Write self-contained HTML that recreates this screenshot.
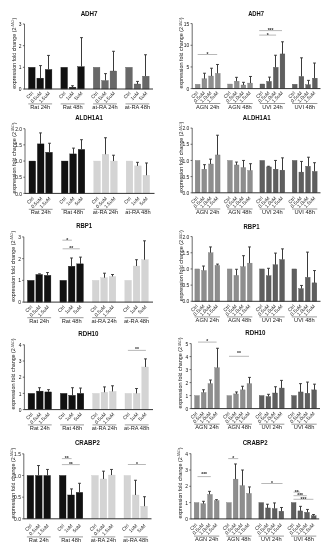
<!DOCTYPE html>
<html><head><meta charset="utf-8"><title>Figure</title>
<style>
html,body{margin:0;padding:0;background:#fff;}
body{width:331px;height:550px;overflow:hidden;}
svg{display:block;}
text{font-family:'Liberation Sans', Arial, sans-serif;fill:#222;}
.t{font-size:6.7px;font-weight:bold;fill:#111;}
.yl{font-size:5.6px;fill:#1a1a1a;}
.sup{font-size:3.1px;fill:#666;}
.tk{font-size:4.9px;fill:#111;}
.rl{font-size:4.9px;fill:#222;}
.gl{font-size:5.7px;fill:#222;}
.st{font-size:5px;fill:#2a2a2a;font-weight:bold;}
.ax{stroke:#444;stroke-width:0.8;}
.bl{stroke:#333;stroke-width:1.0;}
.eb{stroke:#3a3a3a;stroke-width:1;}
.ul{stroke:#555;stroke-width:0.6;}
.sg{stroke:#888;stroke-width:0.6;}
</style></head>
<body>
<svg width="331" height="550" viewBox="0 0 331 550">
<rect width="331" height="550" fill="#fff"/>
<text x="89.1" y="15.7" class="t" text-anchor="middle" textLength="16.9" lengthAdjust="spacingAndGlyphs">ADH7</text>
<text class="yl" transform="translate(15.5,53.3) rotate(-90)" text-anchor="middle" textLength="71" lengthAdjust="spacingAndGlyphs">expression fold change (2<tspan class="sup" dy="-1.6">-ΔΔCt</tspan><tspan dy="1.6">)</tspan></text>
<line x1="24.5" y1="24" x2="24.5" y2="89.4" class="ax"/>
<line x1="22.9" y1="89" x2="24.5" y2="89" class="ax"/>
<text x="21.6" y="91.1" class="tk" text-anchor="end">0</text>
<line x1="22.9" y1="67.33" x2="24.5" y2="67.33" class="ax"/>
<text x="21.6" y="69.43" class="tk" text-anchor="end">1</text>
<line x1="22.9" y1="45.66" x2="24.5" y2="45.66" class="ax"/>
<text x="21.6" y="47.76" class="tk" text-anchor="end">2</text>
<line x1="22.9" y1="23.99" x2="24.5" y2="23.99" class="ax"/>
<text x="21.6" y="26.09" class="tk" text-anchor="end">3</text>
<rect x="28.5" y="67.33" width="6.6" height="21.67" fill="#111111" stroke="#111111" stroke-width="0.35"/>
<rect x="36.9" y="78.16" width="6.6" height="10.84" fill="#111111" stroke="#111111" stroke-width="0.35"/>
<line x1="40.5" y1="78.16" x2="40.5" y2="65.6" class="eb"/>
<line x1="39.1" y1="65.6" x2="41.9" y2="65.6" class="eb"/>
<rect x="45.3" y="69.5" width="6.6" height="19.5" fill="#111111" stroke="#111111" stroke-width="0.35"/>
<line x1="48.5" y1="69.5" x2="48.5" y2="55.41" class="eb"/>
<line x1="47.1" y1="55.41" x2="49.9" y2="55.41" class="eb"/>
<text class="rl" text-anchor="end" transform="translate(33.7,93.7) rotate(-45)">Ctrl</text>
<text class="rl" text-anchor="end" transform="translate(42.1,93.7) rotate(-45)">0.5uM</text>
<text class="rl" text-anchor="end" transform="translate(50.5,93.7) rotate(-45)">1.5uM</text>
<line x1="28.3" y1="103.9" x2="52.1" y2="103.9" class="ul"/>
<text x="40.2" y="109" class="gl" text-anchor="middle">Rat 24h</text>
<rect x="60.9" y="67.33" width="6.6" height="21.67" fill="#111111" stroke="#111111" stroke-width="0.35"/>
<rect x="69.3" y="87.27" width="6.6" height="1.73" fill="#111111" stroke="#111111" stroke-width="0.35"/>
<line x1="72.5" y1="87.27" x2="72.5" y2="85.75" class="eb"/>
<line x1="71.1" y1="85.75" x2="73.9" y2="85.75" class="eb"/>
<rect x="77.7" y="66.68" width="6.6" height="22.32" fill="#111111" stroke="#111111" stroke-width="0.35"/>
<line x1="81.5" y1="66.68" x2="81.5" y2="37.64" class="eb"/>
<line x1="80.1" y1="37.64" x2="82.9" y2="37.64" class="eb"/>
<text class="rl" text-anchor="end" transform="translate(66.1,93.7) rotate(-45)">Ctrl</text>
<text class="rl" text-anchor="end" transform="translate(74.5,93.7) rotate(-45)">1uM</text>
<text class="rl" text-anchor="end" transform="translate(82.9,93.7) rotate(-45)">5uM</text>
<line x1="60.7" y1="103.9" x2="84.5" y2="103.9" class="ul"/>
<text x="72.6" y="109" class="gl" text-anchor="middle">Rat 48h</text>
<rect x="93.3" y="67.33" width="6.6" height="21.67" fill="#686868" stroke="#505050" stroke-width="0.35"/>
<rect x="101.7" y="80.55" width="6.6" height="8.45" fill="#686868" stroke="#505050" stroke-width="0.35"/>
<line x1="105.5" y1="80.55" x2="105.5" y2="73.61" class="eb"/>
<line x1="104.1" y1="73.61" x2="106.9" y2="73.61" class="eb"/>
<rect x="110.1" y="71.01" width="6.6" height="17.99" fill="#686868" stroke="#505050" stroke-width="0.35"/>
<line x1="113.5" y1="71.01" x2="113.5" y2="51.29" class="eb"/>
<line x1="112.1" y1="51.29" x2="114.9" y2="51.29" class="eb"/>
<text class="rl" text-anchor="end" transform="translate(98.5,93.7) rotate(-45)">Ctrl</text>
<text class="rl" text-anchor="end" transform="translate(106.9,93.7) rotate(-45)">0.5uM</text>
<text class="rl" text-anchor="end" transform="translate(115.3,93.7) rotate(-45)">1.5uM</text>
<line x1="93.1" y1="103.9" x2="116.9" y2="103.9" class="ul"/>
<text x="105" y="109" class="gl" text-anchor="middle">at-RA 24h</text>
<rect x="125.7" y="67.33" width="6.6" height="21.67" fill="#686868" stroke="#505050" stroke-width="0.35"/>
<rect x="134.1" y="84.02" width="6.6" height="4.98" fill="#686868" stroke="#505050" stroke-width="0.35"/>
<line x1="137.5" y1="84.02" x2="137.5" y2="81.42" class="eb"/>
<line x1="136.1" y1="81.42" x2="138.9" y2="81.42" class="eb"/>
<rect x="142.5" y="76.21" width="6.6" height="12.79" fill="#686868" stroke="#505050" stroke-width="0.35"/>
<line x1="145.5" y1="76.21" x2="145.5" y2="54.76" class="eb"/>
<line x1="144.1" y1="54.76" x2="146.9" y2="54.76" class="eb"/>
<text class="rl" text-anchor="end" transform="translate(130.9,93.7) rotate(-45)">Ctrl</text>
<text class="rl" text-anchor="end" transform="translate(139.3,93.7) rotate(-45)">1uM</text>
<text class="rl" text-anchor="end" transform="translate(147.7,93.7) rotate(-45)">5uM</text>
<line x1="125.5" y1="103.9" x2="149.3" y2="103.9" class="ul"/>
<text x="137.4" y="109" class="gl" text-anchor="middle">at-RA 48h</text>
<line x1="24.5" y1="89" x2="153" y2="89" class="bl"/>
<text x="256.1" y="15.7" class="t" text-anchor="middle" textLength="15.9" lengthAdjust="spacingAndGlyphs">ADH7</text>
<text class="yl" transform="translate(183.2,52.9) rotate(-90)" text-anchor="middle" textLength="71" lengthAdjust="spacingAndGlyphs">expression fold change (2<tspan class="sup" dy="-1.6">-ΔΔCt</tspan><tspan dy="1.6">)</tspan></text>
<line x1="192.2" y1="23.6" x2="192.2" y2="89" class="ax"/>
<line x1="190.6" y1="88.6" x2="192.2" y2="88.6" class="ax"/>
<text x="189.3" y="90.7" class="tk" text-anchor="end">0</text>
<line x1="190.6" y1="66.94" x2="192.2" y2="66.94" class="ax"/>
<text x="189.3" y="69.03" class="tk" text-anchor="end">5</text>
<line x1="190.6" y1="45.27" x2="192.2" y2="45.27" class="ax"/>
<text x="189.3" y="47.37" class="tk" text-anchor="end">10</text>
<line x1="190.6" y1="23.6" x2="192.2" y2="23.6" class="ax"/>
<text x="189.3" y="25.7" class="tk" text-anchor="end">15</text>
<rect x="195.3" y="84.27" width="4.75" height="4.33" fill="#8e8e8e" stroke="#777777" stroke-width="0.35"/>
<rect x="202" y="78.81" width="4.75" height="9.79" fill="#8e8e8e" stroke="#777777" stroke-width="0.35"/>
<line x1="204.5" y1="78.81" x2="204.5" y2="73.22" class="eb"/>
<line x1="203.1" y1="73.22" x2="205.9" y2="73.22" class="eb"/>
<rect x="208.7" y="76.03" width="4.75" height="12.57" fill="#8e8e8e" stroke="#777777" stroke-width="0.35"/>
<line x1="211.5" y1="76.03" x2="211.5" y2="68.23" class="eb"/>
<line x1="210.1" y1="68.23" x2="212.9" y2="68.23" class="eb"/>
<rect x="215.4" y="73.43" width="4.75" height="15.17" fill="#8e8e8e" stroke="#777777" stroke-width="0.35"/>
<line x1="217.5" y1="73.43" x2="217.5" y2="64.47" class="eb"/>
<line x1="216.1" y1="64.47" x2="218.9" y2="64.47" class="eb"/>
<text class="rl" text-anchor="end" transform="translate(198.58,93.3) rotate(-45)">Ctrl</text>
<text class="rl" text-anchor="end" transform="translate(205.28,93.3) rotate(-45)">0.5uM</text>
<text class="rl" text-anchor="end" transform="translate(211.98,93.3) rotate(-45)">1.0uM</text>
<text class="rl" text-anchor="end" transform="translate(218.68,93.3) rotate(-45)">1.5uM</text>
<line x1="195.1" y1="103.5" x2="220.35" y2="103.5" class="ul"/>
<text x="207.73" y="108.6" class="gl" text-anchor="middle">AGN 24h</text>
<rect x="227.65" y="84.05" width="4.75" height="4.55" fill="#8e8e8e" stroke="#777777" stroke-width="0.35"/>
<rect x="234.35" y="81.23" width="4.75" height="7.37" fill="#8e8e8e" stroke="#777777" stroke-width="0.35"/>
<line x1="236.5" y1="81.23" x2="236.5" y2="77.33" class="eb"/>
<line x1="235.1" y1="77.33" x2="237.9" y2="77.33" class="eb"/>
<rect x="241.05" y="85" width="4.75" height="3.6" fill="#8e8e8e" stroke="#777777" stroke-width="0.35"/>
<line x1="243.5" y1="85" x2="243.5" y2="82.32" class="eb"/>
<line x1="242.1" y1="82.32" x2="244.9" y2="82.32" class="eb"/>
<rect x="247.75" y="83.1" width="4.75" height="5.5" fill="#8e8e8e" stroke="#777777" stroke-width="0.35"/>
<line x1="250.5" y1="83.1" x2="250.5" y2="76.47" class="eb"/>
<line x1="249.1" y1="76.47" x2="251.9" y2="76.47" class="eb"/>
<text class="rl" text-anchor="end" transform="translate(230.93,93.3) rotate(-45)">Ctrl</text>
<text class="rl" text-anchor="end" transform="translate(237.62,93.3) rotate(-45)">0.5uM</text>
<text class="rl" text-anchor="end" transform="translate(244.33,93.3) rotate(-45)">1.0uM</text>
<text class="rl" text-anchor="end" transform="translate(251.03,93.3) rotate(-45)">1.5uM</text>
<line x1="227.45" y1="103.5" x2="252.7" y2="103.5" class="ul"/>
<text x="240.07" y="108.6" class="gl" text-anchor="middle">AGN 48h</text>
<rect x="260" y="84.01" width="4.75" height="4.59" fill="#5f5f5f" stroke="#484848" stroke-width="0.35"/>
<rect x="266.7" y="81.41" width="4.75" height="7.19" fill="#5f5f5f" stroke="#484848" stroke-width="0.35"/>
<line x1="269.5" y1="81.41" x2="269.5" y2="77.12" class="eb"/>
<line x1="268.1" y1="77.12" x2="270.9" y2="77.12" class="eb"/>
<rect x="273.4" y="67.37" width="4.75" height="21.23" fill="#5f5f5f" stroke="#484848" stroke-width="0.35"/>
<line x1="275.5" y1="67.37" x2="275.5" y2="55.24" class="eb"/>
<line x1="274.1" y1="55.24" x2="276.9" y2="55.24" class="eb"/>
<rect x="280.1" y="53.94" width="4.75" height="34.66" fill="#5f5f5f" stroke="#484848" stroke-width="0.35"/>
<line x1="282.5" y1="53.94" x2="282.5" y2="41.8" class="eb"/>
<line x1="281.1" y1="41.8" x2="283.9" y2="41.8" class="eb"/>
<text class="rl" text-anchor="end" transform="translate(263.27,93.3) rotate(-45)">Ctrl</text>
<text class="rl" text-anchor="end" transform="translate(269.97,93.3) rotate(-45)">0.5uM</text>
<text class="rl" text-anchor="end" transform="translate(276.67,93.3) rotate(-45)">1.0uM</text>
<text class="rl" text-anchor="end" transform="translate(283.38,93.3) rotate(-45)">1.5uM</text>
<line x1="259.8" y1="103.5" x2="285.05" y2="103.5" class="ul"/>
<text x="272.43" y="108.6" class="gl" text-anchor="middle">UVI 24h</text>
<rect x="292.35" y="84.27" width="4.75" height="4.33" fill="#5f5f5f" stroke="#484848" stroke-width="0.35"/>
<rect x="299.05" y="76.47" width="4.75" height="12.13" fill="#5f5f5f" stroke="#484848" stroke-width="0.35"/>
<line x1="301.5" y1="76.47" x2="301.5" y2="57.84" class="eb"/>
<line x1="300.1" y1="57.84" x2="302.9" y2="57.84" class="eb"/>
<rect x="305.75" y="84.7" width="4.75" height="3.9" fill="#5f5f5f" stroke="#484848" stroke-width="0.35"/>
<line x1="308.5" y1="84.7" x2="308.5" y2="80.37" class="eb"/>
<line x1="307.1" y1="80.37" x2="309.9" y2="80.37" class="eb"/>
<rect x="312.45" y="78.2" width="4.75" height="10.4" fill="#5f5f5f" stroke="#484848" stroke-width="0.35"/>
<line x1="314.5" y1="78.2" x2="314.5" y2="63.04" class="eb"/>
<line x1="313.1" y1="63.04" x2="315.9" y2="63.04" class="eb"/>
<text class="rl" text-anchor="end" transform="translate(295.62,93.3) rotate(-45)">Ctrl</text>
<text class="rl" text-anchor="end" transform="translate(302.32,93.3) rotate(-45)">0.5uM</text>
<text class="rl" text-anchor="end" transform="translate(309.02,93.3) rotate(-45)">1.0uM</text>
<text class="rl" text-anchor="end" transform="translate(315.73,93.3) rotate(-45)">1.5uM</text>
<line x1="292.15" y1="103.5" x2="317.4" y2="103.5" class="ul"/>
<text x="304.78" y="108.6" class="gl" text-anchor="middle">UVI 48h</text>
<line x1="192.2" y1="88.6" x2="320.5" y2="88.6" class="bl"/>
<line x1="197.7" y1="54.5" x2="217.2" y2="54.5" class="sg"/>
<text x="207.45" y="55.9" class="st" text-anchor="middle">*</text>
<line x1="259.2" y1="30.6" x2="282" y2="30.6" class="sg"/>
<text x="270.6" y="32" class="st" text-anchor="middle">***</text>
<line x1="259.2" y1="35.1" x2="276.1" y2="35.1" class="sg"/>
<text x="267.65" y="36.5" class="st" text-anchor="middle">*</text>
<text x="89" y="120" class="t" text-anchor="middle" textLength="27.7" lengthAdjust="spacingAndGlyphs">ALDH1A1</text>
<text class="yl" transform="translate(16,157.9) rotate(-90)" text-anchor="middle" textLength="71" lengthAdjust="spacingAndGlyphs">expression fold change (2<tspan class="sup" dy="-1.6">-ΔΔCt</tspan><tspan dy="1.6">)</tspan></text>
<line x1="25" y1="128.8" x2="25" y2="193.8" class="ax"/>
<line x1="23.4" y1="193.4" x2="25" y2="193.4" class="ax"/>
<text x="22.1" y="195.5" class="tk" text-anchor="end">0.0</text>
<line x1="23.4" y1="177.22" x2="25" y2="177.22" class="ax"/>
<text x="22.1" y="179.32" class="tk" text-anchor="end">0.5</text>
<line x1="23.4" y1="161.05" x2="25" y2="161.05" class="ax"/>
<text x="22.1" y="163.15" class="tk" text-anchor="end">1.0</text>
<line x1="23.4" y1="144.87" x2="25" y2="144.87" class="ax"/>
<text x="22.1" y="146.97" class="tk" text-anchor="end">1.5</text>
<line x1="23.4" y1="128.7" x2="25" y2="128.7" class="ax"/>
<text x="22.1" y="130.8" class="tk" text-anchor="end">2.0</text>
<rect x="29" y="161.05" width="6.6" height="32.35" fill="#111111" stroke="#111111" stroke-width="0.35"/>
<rect x="37.4" y="143.9" width="6.6" height="49.5" fill="#111111" stroke="#111111" stroke-width="0.35"/>
<line x1="40.5" y1="143.9" x2="40.5" y2="132.91" class="eb"/>
<line x1="39.1" y1="132.91" x2="41.9" y2="132.91" class="eb"/>
<rect x="45.8" y="152.32" width="6.6" height="41.08" fill="#111111" stroke="#111111" stroke-width="0.35"/>
<line x1="49.5" y1="152.32" x2="49.5" y2="143.26" class="eb"/>
<line x1="48.1" y1="143.26" x2="50.9" y2="143.26" class="eb"/>
<text class="rl" text-anchor="end" transform="translate(34.2,198.9) rotate(-45)">Ctrl</text>
<text class="rl" text-anchor="end" transform="translate(42.6,198.9) rotate(-45)">0.5uM</text>
<text class="rl" text-anchor="end" transform="translate(51,198.9) rotate(-45)">1.5uM</text>
<line x1="28.8" y1="209.3" x2="52.6" y2="209.3" class="ul"/>
<text x="40.7" y="214.4" class="gl" text-anchor="middle">Rat 24h</text>
<rect x="61.4" y="161.05" width="6.6" height="32.35" fill="#111111" stroke="#111111" stroke-width="0.35"/>
<rect x="69.8" y="153.93" width="6.6" height="39.47" fill="#111111" stroke="#111111" stroke-width="0.35"/>
<line x1="73.5" y1="153.93" x2="73.5" y2="148.11" class="eb"/>
<line x1="72.1" y1="148.11" x2="74.9" y2="148.11" class="eb"/>
<rect x="78.2" y="149.4" width="6.6" height="44" fill="#111111" stroke="#111111" stroke-width="0.35"/>
<line x1="81.5" y1="149.4" x2="81.5" y2="139.7" class="eb"/>
<line x1="80.1" y1="139.7" x2="82.9" y2="139.7" class="eb"/>
<text class="rl" text-anchor="end" transform="translate(66.6,198.9) rotate(-45)">Ctrl</text>
<text class="rl" text-anchor="end" transform="translate(75,198.9) rotate(-45)">1uM</text>
<text class="rl" text-anchor="end" transform="translate(83.4,198.9) rotate(-45)">5uM</text>
<line x1="61.2" y1="209.3" x2="85" y2="209.3" class="ul"/>
<text x="73.1" y="214.4" class="gl" text-anchor="middle">Rat 48h</text>
<rect x="93.8" y="161.05" width="6.6" height="32.35" fill="#d4d4d4" stroke="#cccccc" stroke-width="0.35"/>
<rect x="102.2" y="154.26" width="6.6" height="39.14" fill="#d4d4d4" stroke="#cccccc" stroke-width="0.35"/>
<line x1="105.5" y1="154.26" x2="105.5" y2="137.76" class="eb"/>
<line x1="104.1" y1="137.76" x2="106.9" y2="137.76" class="eb"/>
<rect x="110.6" y="161.05" width="6.6" height="32.35" fill="#d4d4d4" stroke="#cccccc" stroke-width="0.35"/>
<line x1="113.5" y1="161.05" x2="113.5" y2="155.23" class="eb"/>
<line x1="112.1" y1="155.23" x2="114.9" y2="155.23" class="eb"/>
<text class="rl" text-anchor="end" transform="translate(99,198.9) rotate(-45)">Ctrl</text>
<text class="rl" text-anchor="end" transform="translate(107.4,198.9) rotate(-45)">0.5uM</text>
<text class="rl" text-anchor="end" transform="translate(115.8,198.9) rotate(-45)">1.5uM</text>
<line x1="93.6" y1="209.3" x2="117.4" y2="209.3" class="ul"/>
<text x="105.5" y="214.4" class="gl" text-anchor="middle">at-RA 24h</text>
<rect x="126.2" y="161.05" width="6.6" height="32.35" fill="#d4d4d4" stroke="#cccccc" stroke-width="0.35"/>
<rect x="134.6" y="165.9" width="6.6" height="27.5" fill="#d4d4d4" stroke="#cccccc" stroke-width="0.35"/>
<line x1="137.5" y1="165.9" x2="137.5" y2="162.34" class="eb"/>
<line x1="136.1" y1="162.34" x2="138.9" y2="162.34" class="eb"/>
<rect x="143" y="175.28" width="6.6" height="18.12" fill="#d4d4d4" stroke="#cccccc" stroke-width="0.35"/>
<line x1="146.5" y1="175.28" x2="146.5" y2="162.99" class="eb"/>
<line x1="145.1" y1="162.99" x2="147.9" y2="162.99" class="eb"/>
<text class="rl" text-anchor="end" transform="translate(131.4,198.9) rotate(-45)">Ctrl</text>
<text class="rl" text-anchor="end" transform="translate(139.8,198.9) rotate(-45)">1uM</text>
<text class="rl" text-anchor="end" transform="translate(148.2,198.9) rotate(-45)">5uM</text>
<line x1="126" y1="209.3" x2="149.8" y2="209.3" class="ul"/>
<text x="137.9" y="214.4" class="gl" text-anchor="middle">at-RA 48h</text>
<line x1="25" y1="193.4" x2="154.5" y2="193.4" class="bl"/>
<text x="256.75" y="120" class="t" text-anchor="middle" textLength="27.8" lengthAdjust="spacingAndGlyphs">ALDH1A1</text>
<text class="yl" transform="translate(183.2,157.2) rotate(-90)" text-anchor="middle" textLength="71" lengthAdjust="spacingAndGlyphs">expression fold change (2<tspan class="sup" dy="-1.6">-ΔΔCt</tspan><tspan dy="1.6">)</tspan></text>
<line x1="192.2" y1="128" x2="192.2" y2="193.2" class="ax"/>
<line x1="190.6" y1="192.8" x2="192.2" y2="192.8" class="ax"/>
<text x="189.3" y="194.9" class="tk" text-anchor="end">0.0</text>
<line x1="190.6" y1="176.62" x2="192.2" y2="176.62" class="ax"/>
<text x="189.3" y="178.72" class="tk" text-anchor="end">0.5</text>
<line x1="190.6" y1="160.45" x2="192.2" y2="160.45" class="ax"/>
<text x="189.3" y="162.55" class="tk" text-anchor="end">1.0</text>
<line x1="190.6" y1="144.28" x2="192.2" y2="144.28" class="ax"/>
<text x="189.3" y="146.38" class="tk" text-anchor="end">1.5</text>
<line x1="190.6" y1="128.1" x2="192.2" y2="128.1" class="ax"/>
<text x="189.3" y="130.2" class="tk" text-anchor="end">2.0</text>
<rect x="195.2" y="160.45" width="4.75" height="32.35" fill="#8e8e8e" stroke="#777777" stroke-width="0.35"/>
<rect x="201.9" y="169.18" width="4.75" height="23.62" fill="#8e8e8e" stroke="#777777" stroke-width="0.35"/>
<line x1="204.5" y1="169.18" x2="204.5" y2="164.66" class="eb"/>
<line x1="203.1" y1="164.66" x2="205.9" y2="164.66" class="eb"/>
<rect x="208.6" y="164.01" width="4.75" height="28.79" fill="#8e8e8e" stroke="#777777" stroke-width="0.35"/>
<line x1="210.5" y1="164.01" x2="210.5" y2="159.16" class="eb"/>
<line x1="209.1" y1="159.16" x2="211.9" y2="159.16" class="eb"/>
<rect x="215.3" y="154.95" width="4.75" height="37.85" fill="#8e8e8e" stroke="#777777" stroke-width="0.35"/>
<line x1="217.5" y1="154.95" x2="217.5" y2="135.22" class="eb"/>
<line x1="216.1" y1="135.22" x2="218.9" y2="135.22" class="eb"/>
<text class="rl" text-anchor="end" transform="translate(198.47,198.54) rotate(-45)">Ctrl</text>
<text class="rl" text-anchor="end" transform="translate(205.17,198.54) rotate(-45)">0.5uM</text>
<text class="rl" text-anchor="end" transform="translate(211.88,198.54) rotate(-45)">1.0uM</text>
<text class="rl" text-anchor="end" transform="translate(218.57,198.54) rotate(-45)">1.5uM</text>
<line x1="195" y1="209" x2="220.25" y2="209" class="ul"/>
<text x="207.62" y="214.1" class="gl" text-anchor="middle">AGN 24h</text>
<rect x="227.55" y="160.45" width="4.75" height="32.35" fill="#8e8e8e" stroke="#777777" stroke-width="0.35"/>
<rect x="234.25" y="164.98" width="4.75" height="27.82" fill="#8e8e8e" stroke="#777777" stroke-width="0.35"/>
<line x1="236.5" y1="164.98" x2="236.5" y2="162.07" class="eb"/>
<line x1="235.1" y1="162.07" x2="237.9" y2="162.07" class="eb"/>
<rect x="240.95" y="167.57" width="4.75" height="25.23" fill="#8e8e8e" stroke="#777777" stroke-width="0.35"/>
<line x1="243.5" y1="167.57" x2="243.5" y2="160.45" class="eb"/>
<line x1="242.1" y1="160.45" x2="244.9" y2="160.45" class="eb"/>
<rect x="247.65" y="170.48" width="4.75" height="22.32" fill="#8e8e8e" stroke="#777777" stroke-width="0.35"/>
<line x1="250.5" y1="170.48" x2="250.5" y2="163.69" class="eb"/>
<line x1="249.1" y1="163.69" x2="251.9" y2="163.69" class="eb"/>
<text class="rl" text-anchor="end" transform="translate(230.82,198.54) rotate(-45)">Ctrl</text>
<text class="rl" text-anchor="end" transform="translate(237.52,198.54) rotate(-45)">0.5uM</text>
<text class="rl" text-anchor="end" transform="translate(244.22,198.54) rotate(-45)">1.0uM</text>
<text class="rl" text-anchor="end" transform="translate(250.92,198.54) rotate(-45)">1.5uM</text>
<line x1="227.35" y1="209" x2="252.6" y2="209" class="ul"/>
<text x="239.97" y="214.1" class="gl" text-anchor="middle">AGN 48h</text>
<rect x="259.9" y="160.45" width="4.75" height="32.35" fill="#5f5f5f" stroke="#484848" stroke-width="0.35"/>
<rect x="266.6" y="166.92" width="4.75" height="25.88" fill="#5f5f5f" stroke="#484848" stroke-width="0.35"/>
<line x1="268.5" y1="166.92" x2="268.5" y2="166.27" class="eb"/>
<line x1="267.1" y1="166.27" x2="269.9" y2="166.27" class="eb"/>
<rect x="273.3" y="169.18" width="4.75" height="23.62" fill="#5f5f5f" stroke="#484848" stroke-width="0.35"/>
<line x1="275.5" y1="169.18" x2="275.5" y2="160.45" class="eb"/>
<line x1="274.1" y1="160.45" x2="276.9" y2="160.45" class="eb"/>
<rect x="280" y="170.16" width="4.75" height="22.65" fill="#5f5f5f" stroke="#484848" stroke-width="0.35"/>
<line x1="282.5" y1="170.16" x2="282.5" y2="157.86" class="eb"/>
<line x1="281.1" y1="157.86" x2="283.9" y2="157.86" class="eb"/>
<text class="rl" text-anchor="end" transform="translate(263.17,198.54) rotate(-45)">Ctrl</text>
<text class="rl" text-anchor="end" transform="translate(269.87,198.54) rotate(-45)">0.5uM</text>
<text class="rl" text-anchor="end" transform="translate(276.57,198.54) rotate(-45)">1.0uM</text>
<text class="rl" text-anchor="end" transform="translate(283.27,198.54) rotate(-45)">1.5uM</text>
<line x1="259.7" y1="209" x2="284.95" y2="209" class="ul"/>
<text x="272.32" y="214.1" class="gl" text-anchor="middle">UVI 24h</text>
<rect x="292.25" y="160.45" width="4.75" height="32.35" fill="#5f5f5f" stroke="#484848" stroke-width="0.35"/>
<rect x="298.95" y="172.1" width="4.75" height="20.7" fill="#5f5f5f" stroke="#484848" stroke-width="0.35"/>
<line x1="301.5" y1="172.1" x2="301.5" y2="161.42" class="eb"/>
<line x1="300.1" y1="161.42" x2="302.9" y2="161.42" class="eb"/>
<rect x="305.65" y="166.27" width="4.75" height="26.53" fill="#5f5f5f" stroke="#484848" stroke-width="0.35"/>
<line x1="308.5" y1="166.27" x2="308.5" y2="157.22" class="eb"/>
<line x1="307.1" y1="157.22" x2="309.9" y2="157.22" class="eb"/>
<rect x="312.35" y="171.45" width="4.75" height="21.35" fill="#5f5f5f" stroke="#484848" stroke-width="0.35"/>
<line x1="314.5" y1="171.45" x2="314.5" y2="162.71" class="eb"/>
<line x1="313.1" y1="162.71" x2="315.9" y2="162.71" class="eb"/>
<text class="rl" text-anchor="end" transform="translate(295.52,198.54) rotate(-45)">Ctrl</text>
<text class="rl" text-anchor="end" transform="translate(302.22,198.54) rotate(-45)">0.5uM</text>
<text class="rl" text-anchor="end" transform="translate(308.92,198.54) rotate(-45)">1.0uM</text>
<text class="rl" text-anchor="end" transform="translate(315.62,198.54) rotate(-45)">1.5uM</text>
<line x1="292.05" y1="209" x2="317.3" y2="209" class="ul"/>
<text x="304.68" y="214.1" class="gl" text-anchor="middle">UVI 48h</text>
<line x1="192.2" y1="192.8" x2="320.5" y2="192.8" class="bl"/>
<text x="84.1" y="228.3" class="t" text-anchor="middle" textLength="15.9" lengthAdjust="spacingAndGlyphs">RBP1</text>
<text class="yl" transform="translate(14.8,266.3) rotate(-90)" text-anchor="middle" textLength="71" lengthAdjust="spacingAndGlyphs">expression fold change (2<tspan class="sup" dy="-1.6">-ΔΔCt</tspan><tspan dy="1.6">)</tspan></text>
<line x1="23.8" y1="236.9" x2="23.8" y2="302.5" class="ax"/>
<line x1="22.2" y1="302.1" x2="23.8" y2="302.1" class="ax"/>
<text x="20.9" y="304.2" class="tk" text-anchor="end">0</text>
<line x1="22.2" y1="280.37" x2="23.8" y2="280.37" class="ax"/>
<text x="20.9" y="282.47" class="tk" text-anchor="end">1</text>
<line x1="22.2" y1="258.64" x2="23.8" y2="258.64" class="ax"/>
<text x="20.9" y="260.74" class="tk" text-anchor="end">2</text>
<line x1="22.2" y1="236.91" x2="23.8" y2="236.91" class="ax"/>
<text x="20.9" y="239.01" class="tk" text-anchor="end">3</text>
<rect x="27.5" y="280.37" width="6.6" height="21.73" fill="#111111" stroke="#111111" stroke-width="0.35"/>
<rect x="35.9" y="274.5" width="6.6" height="27.6" fill="#111111" stroke="#111111" stroke-width="0.35"/>
<line x1="39.5" y1="274.5" x2="39.5" y2="273.85" class="eb"/>
<line x1="38.1" y1="273.85" x2="40.9" y2="273.85" class="eb"/>
<rect x="44.3" y="275.37" width="6.6" height="26.73" fill="#111111" stroke="#111111" stroke-width="0.35"/>
<line x1="47.5" y1="275.37" x2="47.5" y2="272.55" class="eb"/>
<line x1="46.1" y1="272.55" x2="48.9" y2="272.55" class="eb"/>
<text class="rl" text-anchor="end" transform="translate(32.7,307.36) rotate(-45)">Ctrl</text>
<text class="rl" text-anchor="end" transform="translate(41.1,307.36) rotate(-45)">0.5uM</text>
<text class="rl" text-anchor="end" transform="translate(49.5,307.36) rotate(-45)">1.5uM</text>
<line x1="27.3" y1="317.7" x2="51.1" y2="317.7" class="ul"/>
<text x="39.2" y="322.8" class="gl" text-anchor="middle">Rat 24h</text>
<rect x="59.95" y="280.37" width="6.6" height="21.73" fill="#111111" stroke="#111111" stroke-width="0.35"/>
<rect x="68.35" y="266.25" width="6.6" height="35.85" fill="#111111" stroke="#111111" stroke-width="0.35"/>
<line x1="71.5" y1="266.25" x2="71.5" y2="257.99" class="eb"/>
<line x1="70.1" y1="257.99" x2="72.9" y2="257.99" class="eb"/>
<rect x="76.75" y="263.86" width="6.6" height="38.24" fill="#111111" stroke="#111111" stroke-width="0.35"/>
<line x1="80.5" y1="263.86" x2="80.5" y2="257.12" class="eb"/>
<line x1="79.1" y1="257.12" x2="81.9" y2="257.12" class="eb"/>
<text class="rl" text-anchor="end" transform="translate(65.15,307.36) rotate(-45)">Ctrl</text>
<text class="rl" text-anchor="end" transform="translate(73.55,307.36) rotate(-45)">1uM</text>
<text class="rl" text-anchor="end" transform="translate(81.95,307.36) rotate(-45)">5uM</text>
<line x1="59.75" y1="317.7" x2="83.55" y2="317.7" class="ul"/>
<text x="71.65" y="322.8" class="gl" text-anchor="middle">Rat 48h</text>
<rect x="92.4" y="280.37" width="6.6" height="21.73" fill="#d4d4d4" stroke="#cccccc" stroke-width="0.35"/>
<rect x="100.8" y="277.76" width="6.6" height="24.34" fill="#d4d4d4" stroke="#cccccc" stroke-width="0.35"/>
<line x1="104.5" y1="277.76" x2="104.5" y2="273.2" class="eb"/>
<line x1="103.1" y1="273.2" x2="105.9" y2="273.2" class="eb"/>
<rect x="109.2" y="276.46" width="6.6" height="25.64" fill="#d4d4d4" stroke="#cccccc" stroke-width="0.35"/>
<line x1="112.5" y1="276.46" x2="112.5" y2="274.5" class="eb"/>
<line x1="111.1" y1="274.5" x2="113.9" y2="274.5" class="eb"/>
<text class="rl" text-anchor="end" transform="translate(97.6,307.36) rotate(-45)">Ctrl</text>
<text class="rl" text-anchor="end" transform="translate(106,307.36) rotate(-45)">0.5uM</text>
<text class="rl" text-anchor="end" transform="translate(114.4,307.36) rotate(-45)">1.5uM</text>
<line x1="92.2" y1="317.7" x2="116" y2="317.7" class="ul"/>
<text x="104.1" y="322.8" class="gl" text-anchor="middle">at-RA 24h</text>
<rect x="124.85" y="280.37" width="6.6" height="21.73" fill="#d4d4d4" stroke="#cccccc" stroke-width="0.35"/>
<rect x="133.25" y="266.03" width="6.6" height="36.07" fill="#d4d4d4" stroke="#cccccc" stroke-width="0.35"/>
<line x1="136.5" y1="266.03" x2="136.5" y2="259.73" class="eb"/>
<line x1="135.1" y1="259.73" x2="137.9" y2="259.73" class="eb"/>
<rect x="141.65" y="259.73" width="6.6" height="42.37" fill="#d4d4d4" stroke="#cccccc" stroke-width="0.35"/>
<line x1="144.5" y1="259.73" x2="144.5" y2="240.82" class="eb"/>
<line x1="143.1" y1="240.82" x2="145.9" y2="240.82" class="eb"/>
<text class="rl" text-anchor="end" transform="translate(130.05,307.36) rotate(-45)">Ctrl</text>
<text class="rl" text-anchor="end" transform="translate(138.45,307.36) rotate(-45)">1uM</text>
<text class="rl" text-anchor="end" transform="translate(146.85,307.36) rotate(-45)">5uM</text>
<line x1="124.65" y1="317.7" x2="148.45" y2="317.7" class="ul"/>
<text x="136.55" y="322.8" class="gl" text-anchor="middle">at-RA 48h</text>
<line x1="23.8" y1="302.1" x2="153" y2="302.1" class="bl"/>
<line x1="62.4" y1="240.2" x2="71.9" y2="240.2" class="sg"/>
<text x="67.15" y="241.6" class="st" text-anchor="middle">*</text>
<line x1="62.6" y1="248.8" x2="79.8" y2="248.8" class="sg"/>
<text x="71.2" y="250.2" class="st" text-anchor="middle">**</text>
<text x="251.5" y="228.8" class="t" text-anchor="middle" textLength="15.9" lengthAdjust="spacingAndGlyphs">RBP1</text>
<text class="yl" transform="translate(183.2,265.75) rotate(-90)" text-anchor="middle" textLength="71" lengthAdjust="spacingAndGlyphs">expression fold change (2<tspan class="sup" dy="-1.6">-ΔΔCt</tspan><tspan dy="1.6">)</tspan></text>
<line x1="192.2" y1="236.6" x2="192.2" y2="301.7" class="ax"/>
<line x1="190.6" y1="301.3" x2="192.2" y2="301.3" class="ax"/>
<text x="189.3" y="303.4" class="tk" text-anchor="end">0.0</text>
<line x1="190.6" y1="285.12" x2="192.2" y2="285.12" class="ax"/>
<text x="189.3" y="287.23" class="tk" text-anchor="end">0.5</text>
<line x1="190.6" y1="268.95" x2="192.2" y2="268.95" class="ax"/>
<text x="189.3" y="271.05" class="tk" text-anchor="end">1.0</text>
<line x1="190.6" y1="252.78" x2="192.2" y2="252.78" class="ax"/>
<text x="189.3" y="254.88" class="tk" text-anchor="end">1.5</text>
<line x1="190.6" y1="236.6" x2="192.2" y2="236.6" class="ax"/>
<text x="189.3" y="238.7" class="tk" text-anchor="end">2.0</text>
<rect x="194.9" y="268.95" width="4.75" height="32.35" fill="#8e8e8e" stroke="#777777" stroke-width="0.35"/>
<rect x="201.6" y="270.57" width="4.75" height="30.73" fill="#8e8e8e" stroke="#777777" stroke-width="0.35"/>
<line x1="203.5" y1="270.57" x2="203.5" y2="266.04" class="eb"/>
<line x1="202.1" y1="266.04" x2="204.9" y2="266.04" class="eb"/>
<rect x="208.3" y="252.78" width="4.75" height="48.53" fill="#8e8e8e" stroke="#777777" stroke-width="0.35"/>
<line x1="210.5" y1="252.78" x2="210.5" y2="246.95" class="eb"/>
<line x1="209.1" y1="246.95" x2="211.9" y2="246.95" class="eb"/>
<rect x="215" y="265.39" width="4.75" height="35.91" fill="#8e8e8e" stroke="#777777" stroke-width="0.35"/>
<line x1="217.5" y1="265.39" x2="217.5" y2="264.1" class="eb"/>
<line x1="216.1" y1="264.1" x2="218.9" y2="264.1" class="eb"/>
<text class="rl" text-anchor="end" transform="translate(198.18,306.56) rotate(-45)">Ctrl</text>
<text class="rl" text-anchor="end" transform="translate(204.88,306.56) rotate(-45)">0.5uM</text>
<text class="rl" text-anchor="end" transform="translate(211.58,306.56) rotate(-45)">1.0uM</text>
<text class="rl" text-anchor="end" transform="translate(218.28,306.56) rotate(-45)">1.5uM</text>
<line x1="194.7" y1="316.9" x2="219.95" y2="316.9" class="ul"/>
<text x="207.32" y="322" class="gl" text-anchor="middle">AGN 24h</text>
<rect x="227.25" y="268.95" width="4.75" height="32.35" fill="#8e8e8e" stroke="#777777" stroke-width="0.35"/>
<rect x="233.95" y="275.42" width="4.75" height="25.88" fill="#8e8e8e" stroke="#777777" stroke-width="0.35"/>
<line x1="236.5" y1="275.42" x2="236.5" y2="269.27" class="eb"/>
<line x1="235.1" y1="269.27" x2="237.9" y2="269.27" class="eb"/>
<rect x="240.65" y="266.69" width="4.75" height="34.61" fill="#8e8e8e" stroke="#777777" stroke-width="0.35"/>
<line x1="243.5" y1="266.69" x2="243.5" y2="255.69" class="eb"/>
<line x1="242.1" y1="255.69" x2="244.9" y2="255.69" class="eb"/>
<rect x="247.35" y="263.13" width="4.75" height="38.17" fill="#8e8e8e" stroke="#777777" stroke-width="0.35"/>
<line x1="249.5" y1="263.13" x2="249.5" y2="246.95" class="eb"/>
<line x1="248.1" y1="246.95" x2="250.9" y2="246.95" class="eb"/>
<text class="rl" text-anchor="end" transform="translate(230.53,306.56) rotate(-45)">Ctrl</text>
<text class="rl" text-anchor="end" transform="translate(237.22,306.56) rotate(-45)">0.5uM</text>
<text class="rl" text-anchor="end" transform="translate(243.93,306.56) rotate(-45)">1.0uM</text>
<text class="rl" text-anchor="end" transform="translate(250.62,306.56) rotate(-45)">1.5uM</text>
<line x1="227.05" y1="316.9" x2="252.3" y2="316.9" class="ul"/>
<text x="239.68" y="322" class="gl" text-anchor="middle">AGN 48h</text>
<rect x="259.6" y="268.95" width="4.75" height="32.35" fill="#5f5f5f" stroke="#484848" stroke-width="0.35"/>
<rect x="266.3" y="275.74" width="4.75" height="25.56" fill="#5f5f5f" stroke="#484848" stroke-width="0.35"/>
<line x1="268.5" y1="275.74" x2="268.5" y2="268.3" class="eb"/>
<line x1="267.1" y1="268.3" x2="269.9" y2="268.3" class="eb"/>
<rect x="273" y="264.74" width="4.75" height="36.56" fill="#5f5f5f" stroke="#484848" stroke-width="0.35"/>
<line x1="275.5" y1="264.74" x2="275.5" y2="253.1" class="eb"/>
<line x1="274.1" y1="253.1" x2="276.9" y2="253.1" class="eb"/>
<rect x="279.7" y="259.57" width="4.75" height="41.73" fill="#5f5f5f" stroke="#484848" stroke-width="0.35"/>
<line x1="282.5" y1="259.57" x2="282.5" y2="248.89" class="eb"/>
<line x1="281.1" y1="248.89" x2="283.9" y2="248.89" class="eb"/>
<text class="rl" text-anchor="end" transform="translate(262.88,306.56) rotate(-45)">Ctrl</text>
<text class="rl" text-anchor="end" transform="translate(269.57,306.56) rotate(-45)">0.5uM</text>
<text class="rl" text-anchor="end" transform="translate(276.27,306.56) rotate(-45)">1.0uM</text>
<text class="rl" text-anchor="end" transform="translate(282.98,306.56) rotate(-45)">1.5uM</text>
<line x1="259.4" y1="316.9" x2="284.65" y2="316.9" class="ul"/>
<text x="272.03" y="322" class="gl" text-anchor="middle">UVI 24h</text>
<rect x="291.95" y="268.95" width="4.75" height="32.35" fill="#5f5f5f" stroke="#484848" stroke-width="0.35"/>
<rect x="298.65" y="288.68" width="4.75" height="12.62" fill="#5f5f5f" stroke="#484848" stroke-width="0.35"/>
<line x1="301.5" y1="288.68" x2="301.5" y2="285.45" class="eb"/>
<line x1="300.1" y1="285.45" x2="302.9" y2="285.45" class="eb"/>
<rect x="305.35" y="277.36" width="4.75" height="23.94" fill="#5f5f5f" stroke="#484848" stroke-width="0.35"/>
<line x1="307.5" y1="277.36" x2="307.5" y2="252.13" class="eb"/>
<line x1="306.1" y1="252.13" x2="308.9" y2="252.13" class="eb"/>
<rect x="312.05" y="282.86" width="4.75" height="18.44" fill="#5f5f5f" stroke="#484848" stroke-width="0.35"/>
<line x1="314.5" y1="282.86" x2="314.5" y2="270.57" class="eb"/>
<line x1="313.1" y1="270.57" x2="315.9" y2="270.57" class="eb"/>
<text class="rl" text-anchor="end" transform="translate(295.23,306.56) rotate(-45)">Ctrl</text>
<text class="rl" text-anchor="end" transform="translate(301.93,306.56) rotate(-45)">0.5uM</text>
<text class="rl" text-anchor="end" transform="translate(308.62,306.56) rotate(-45)">1.0uM</text>
<text class="rl" text-anchor="end" transform="translate(315.33,306.56) rotate(-45)">1.5uM</text>
<line x1="291.75" y1="316.9" x2="317" y2="316.9" class="ul"/>
<text x="304.38" y="322" class="gl" text-anchor="middle">UVI 48h</text>
<line x1="192.2" y1="301.3" x2="320.5" y2="301.3" class="bl"/>
<text x="88.35" y="335.8" class="t" text-anchor="middle" textLength="20.2" lengthAdjust="spacingAndGlyphs">RDH10</text>
<text class="yl" transform="translate(15.4,373.95) rotate(-90)" text-anchor="middle" textLength="71" lengthAdjust="spacingAndGlyphs">expression fold change (2<tspan class="sup" dy="-1.6">-ΔΔCt</tspan><tspan dy="1.6">)</tspan></text>
<line x1="24.4" y1="344.7" x2="24.4" y2="410" class="ax"/>
<line x1="22.8" y1="409.6" x2="24.4" y2="409.6" class="ax"/>
<text x="21.5" y="411.7" class="tk" text-anchor="end">0</text>
<line x1="22.8" y1="393.4" x2="24.4" y2="393.4" class="ax"/>
<text x="21.5" y="395.5" class="tk" text-anchor="end">1</text>
<line x1="22.8" y1="377.2" x2="24.4" y2="377.2" class="ax"/>
<text x="21.5" y="379.3" class="tk" text-anchor="end">2</text>
<line x1="22.8" y1="361" x2="24.4" y2="361" class="ax"/>
<text x="21.5" y="363.1" class="tk" text-anchor="end">3</text>
<line x1="22.8" y1="344.8" x2="24.4" y2="344.8" class="ax"/>
<text x="21.5" y="346.9" class="tk" text-anchor="end">4</text>
<rect x="28.1" y="393.4" width="6.6" height="16.2" fill="#111111" stroke="#111111" stroke-width="0.35"/>
<rect x="36.5" y="391.13" width="6.6" height="18.47" fill="#111111" stroke="#111111" stroke-width="0.35"/>
<line x1="39.5" y1="391.13" x2="39.5" y2="387.73" class="eb"/>
<line x1="38.1" y1="387.73" x2="40.9" y2="387.73" class="eb"/>
<rect x="44.9" y="391.94" width="6.6" height="17.66" fill="#111111" stroke="#111111" stroke-width="0.35"/>
<line x1="48.5" y1="391.94" x2="48.5" y2="389.67" class="eb"/>
<line x1="47.1" y1="389.67" x2="49.9" y2="389.67" class="eb"/>
<text class="rl" text-anchor="end" transform="translate(33.3,414.62) rotate(-45)">Ctrl</text>
<text class="rl" text-anchor="end" transform="translate(41.7,414.62) rotate(-45)">0.5uM</text>
<text class="rl" text-anchor="end" transform="translate(50.1,414.62) rotate(-45)">1.5uM</text>
<line x1="27.9" y1="424.9" x2="51.7" y2="424.9" class="ul"/>
<text x="39.8" y="430" class="gl" text-anchor="middle">Rat 24h</text>
<rect x="60.4" y="393.4" width="6.6" height="16.2" fill="#111111" stroke="#111111" stroke-width="0.35"/>
<rect x="68.8" y="395.34" width="6.6" height="14.26" fill="#111111" stroke="#111111" stroke-width="0.35"/>
<line x1="72.5" y1="395.34" x2="72.5" y2="387.73" class="eb"/>
<line x1="71.1" y1="387.73" x2="73.9" y2="387.73" class="eb"/>
<rect x="77.2" y="393.4" width="6.6" height="16.2" fill="#111111" stroke="#111111" stroke-width="0.35"/>
<line x1="80.5" y1="393.4" x2="80.5" y2="388.05" class="eb"/>
<line x1="79.1" y1="388.05" x2="81.9" y2="388.05" class="eb"/>
<text class="rl" text-anchor="end" transform="translate(65.6,414.62) rotate(-45)">Ctrl</text>
<text class="rl" text-anchor="end" transform="translate(74,414.62) rotate(-45)">1uM</text>
<text class="rl" text-anchor="end" transform="translate(82.4,414.62) rotate(-45)">5uM</text>
<line x1="60.2" y1="424.9" x2="84" y2="424.9" class="ul"/>
<text x="72.1" y="430" class="gl" text-anchor="middle">Rat 48h</text>
<rect x="92.7" y="393.4" width="6.6" height="16.2" fill="#d4d4d4" stroke="#cccccc" stroke-width="0.35"/>
<rect x="101.1" y="392.27" width="6.6" height="17.33" fill="#d4d4d4" stroke="#cccccc" stroke-width="0.35"/>
<line x1="104.5" y1="392.27" x2="104.5" y2="386.92" class="eb"/>
<line x1="103.1" y1="386.92" x2="105.9" y2="386.92" class="eb"/>
<rect x="109.5" y="391.46" width="6.6" height="18.14" fill="#d4d4d4" stroke="#cccccc" stroke-width="0.35"/>
<line x1="112.5" y1="391.46" x2="112.5" y2="385.79" class="eb"/>
<line x1="111.1" y1="385.79" x2="113.9" y2="385.79" class="eb"/>
<text class="rl" text-anchor="end" transform="translate(97.9,414.62) rotate(-45)">Ctrl</text>
<text class="rl" text-anchor="end" transform="translate(106.3,414.62) rotate(-45)">0.5uM</text>
<text class="rl" text-anchor="end" transform="translate(114.7,414.62) rotate(-45)">1.5uM</text>
<line x1="92.5" y1="424.9" x2="116.3" y2="424.9" class="ul"/>
<text x="104.4" y="430" class="gl" text-anchor="middle">at-RA 24h</text>
<rect x="125" y="393.4" width="6.6" height="16.2" fill="#d4d4d4" stroke="#cccccc" stroke-width="0.35"/>
<rect x="133.4" y="393.4" width="6.6" height="16.2" fill="#d4d4d4" stroke="#cccccc" stroke-width="0.35"/>
<line x1="136.5" y1="393.4" x2="136.5" y2="388.54" class="eb"/>
<line x1="135.1" y1="388.54" x2="137.9" y2="388.54" class="eb"/>
<rect x="141.8" y="366.99" width="6.6" height="42.61" fill="#d4d4d4" stroke="#cccccc" stroke-width="0.35"/>
<line x1="145.5" y1="366.99" x2="145.5" y2="358.89" class="eb"/>
<line x1="144.1" y1="358.89" x2="146.9" y2="358.89" class="eb"/>
<text class="rl" text-anchor="end" transform="translate(130.2,414.62) rotate(-45)">Ctrl</text>
<text class="rl" text-anchor="end" transform="translate(138.6,414.62) rotate(-45)">1uM</text>
<text class="rl" text-anchor="end" transform="translate(147,414.62) rotate(-45)">5uM</text>
<line x1="124.8" y1="424.9" x2="148.6" y2="424.9" class="ul"/>
<text x="136.7" y="430" class="gl" text-anchor="middle">at-RA 48h</text>
<line x1="24.4" y1="409.6" x2="153" y2="409.6" class="bl"/>
<line x1="127.9" y1="350.4" x2="145.9" y2="350.4" class="sg"/>
<text x="136.9" y="351.2" class="st" text-anchor="middle">**</text>
<text x="255.35" y="335.3" class="t" text-anchor="middle" textLength="20.2" lengthAdjust="spacingAndGlyphs">RDH10</text>
<text class="yl" transform="translate(182.2,372.9) rotate(-90)" text-anchor="middle" textLength="71" lengthAdjust="spacingAndGlyphs">expression fold change (2<tspan class="sup" dy="-1.6">-ΔΔCt</tspan><tspan dy="1.6">)</tspan></text>
<line x1="191.2" y1="343.6" x2="191.2" y2="409" class="ax"/>
<line x1="189.6" y1="408.6" x2="191.2" y2="408.6" class="ax"/>
<text x="188.3" y="410.7" class="tk" text-anchor="end">0</text>
<line x1="189.6" y1="395.6" x2="191.2" y2="395.6" class="ax"/>
<text x="188.3" y="397.7" class="tk" text-anchor="end">1</text>
<line x1="189.6" y1="382.6" x2="191.2" y2="382.6" class="ax"/>
<text x="188.3" y="384.7" class="tk" text-anchor="end">2</text>
<line x1="189.6" y1="369.6" x2="191.2" y2="369.6" class="ax"/>
<text x="188.3" y="371.7" class="tk" text-anchor="end">3</text>
<line x1="189.6" y1="356.6" x2="191.2" y2="356.6" class="ax"/>
<text x="188.3" y="358.7" class="tk" text-anchor="end">4</text>
<line x1="189.6" y1="343.6" x2="191.2" y2="343.6" class="ax"/>
<text x="188.3" y="345.7" class="tk" text-anchor="end">5</text>
<rect x="194.6" y="395.6" width="4.75" height="13" fill="#8e8e8e" stroke="#777777" stroke-width="0.35"/>
<rect x="201.3" y="392.61" width="4.75" height="15.99" fill="#8e8e8e" stroke="#777777" stroke-width="0.35"/>
<line x1="203.5" y1="392.61" x2="203.5" y2="389.75" class="eb"/>
<line x1="202.1" y1="389.75" x2="204.9" y2="389.75" class="eb"/>
<rect x="208" y="383.64" width="4.75" height="24.96" fill="#8e8e8e" stroke="#777777" stroke-width="0.35"/>
<line x1="210.5" y1="383.64" x2="210.5" y2="380" class="eb"/>
<line x1="209.1" y1="380" x2="211.9" y2="380" class="eb"/>
<rect x="214.7" y="367.78" width="4.75" height="40.82" fill="#8e8e8e" stroke="#777777" stroke-width="0.35"/>
<line x1="217.5" y1="367.78" x2="217.5" y2="348.28" class="eb"/>
<line x1="216.1" y1="348.28" x2="218.9" y2="348.28" class="eb"/>
<text class="rl" text-anchor="end" transform="translate(197.88,413.86) rotate(-45)">Ctrl</text>
<text class="rl" text-anchor="end" transform="translate(204.57,413.86) rotate(-45)">0.5uM</text>
<text class="rl" text-anchor="end" transform="translate(211.28,413.86) rotate(-45)">1.0uM</text>
<text class="rl" text-anchor="end" transform="translate(217.97,413.86) rotate(-45)">1.5uM</text>
<line x1="194.4" y1="424.2" x2="219.65" y2="424.2" class="ul"/>
<text x="207.02" y="429.3" class="gl" text-anchor="middle">AGN 24h</text>
<rect x="226.95" y="395.6" width="4.75" height="13" fill="#8e8e8e" stroke="#777777" stroke-width="0.35"/>
<rect x="233.65" y="393.91" width="4.75" height="14.69" fill="#8e8e8e" stroke="#777777" stroke-width="0.35"/>
<line x1="236.5" y1="393.91" x2="236.5" y2="391.96" class="eb"/>
<line x1="235.1" y1="391.96" x2="237.9" y2="391.96" class="eb"/>
<rect x="240.35" y="389.88" width="4.75" height="18.72" fill="#8e8e8e" stroke="#777777" stroke-width="0.35"/>
<line x1="242.5" y1="389.88" x2="242.5" y2="386.24" class="eb"/>
<line x1="241.1" y1="386.24" x2="243.9" y2="386.24" class="eb"/>
<rect x="247.05" y="383.64" width="4.75" height="24.96" fill="#8e8e8e" stroke="#777777" stroke-width="0.35"/>
<line x1="249.5" y1="383.64" x2="249.5" y2="377.4" class="eb"/>
<line x1="248.1" y1="377.4" x2="250.9" y2="377.4" class="eb"/>
<text class="rl" text-anchor="end" transform="translate(230.22,413.86) rotate(-45)">Ctrl</text>
<text class="rl" text-anchor="end" transform="translate(236.92,413.86) rotate(-45)">0.5uM</text>
<text class="rl" text-anchor="end" transform="translate(243.62,413.86) rotate(-45)">1.0uM</text>
<text class="rl" text-anchor="end" transform="translate(250.32,413.86) rotate(-45)">1.5uM</text>
<line x1="226.75" y1="424.2" x2="252" y2="424.2" class="ul"/>
<text x="239.38" y="429.3" class="gl" text-anchor="middle">AGN 48h</text>
<rect x="259.3" y="395.6" width="4.75" height="13" fill="#5f5f5f" stroke="#484848" stroke-width="0.35"/>
<rect x="266" y="396.51" width="4.75" height="12.09" fill="#5f5f5f" stroke="#484848" stroke-width="0.35"/>
<line x1="268.5" y1="396.51" x2="268.5" y2="394.3" class="eb"/>
<line x1="267.1" y1="394.3" x2="269.9" y2="394.3" class="eb"/>
<rect x="272.7" y="393" width="4.75" height="15.6" fill="#5f5f5f" stroke="#484848" stroke-width="0.35"/>
<line x1="275.5" y1="393" x2="275.5" y2="386.76" class="eb"/>
<line x1="274.1" y1="386.76" x2="276.9" y2="386.76" class="eb"/>
<rect x="279.4" y="388.06" width="4.75" height="20.54" fill="#5f5f5f" stroke="#484848" stroke-width="0.35"/>
<line x1="281.5" y1="388.06" x2="281.5" y2="380.39" class="eb"/>
<line x1="280.1" y1="380.39" x2="282.9" y2="380.39" class="eb"/>
<text class="rl" text-anchor="end" transform="translate(262.57,413.86) rotate(-45)">Ctrl</text>
<text class="rl" text-anchor="end" transform="translate(269.27,413.86) rotate(-45)">0.5uM</text>
<text class="rl" text-anchor="end" transform="translate(275.97,413.86) rotate(-45)">1.0uM</text>
<text class="rl" text-anchor="end" transform="translate(282.68,413.86) rotate(-45)">1.5uM</text>
<line x1="259.1" y1="424.2" x2="284.35" y2="424.2" class="ul"/>
<text x="271.73" y="429.3" class="gl" text-anchor="middle">UVI 24h</text>
<rect x="291.65" y="395.6" width="4.75" height="13" fill="#5f5f5f" stroke="#484848" stroke-width="0.35"/>
<rect x="298.35" y="391.96" width="4.75" height="16.64" fill="#5f5f5f" stroke="#484848" stroke-width="0.35"/>
<line x1="300.5" y1="391.96" x2="300.5" y2="383.64" class="eb"/>
<line x1="299.1" y1="383.64" x2="301.9" y2="383.64" class="eb"/>
<rect x="305.05" y="393.26" width="4.75" height="15.34" fill="#5f5f5f" stroke="#484848" stroke-width="0.35"/>
<line x1="307.5" y1="393.26" x2="307.5" y2="382.08" class="eb"/>
<line x1="306.1" y1="382.08" x2="308.9" y2="382.08" class="eb"/>
<rect x="311.75" y="389.88" width="4.75" height="18.72" fill="#5f5f5f" stroke="#484848" stroke-width="0.35"/>
<line x1="314.5" y1="389.88" x2="314.5" y2="384.16" class="eb"/>
<line x1="313.1" y1="384.16" x2="315.9" y2="384.16" class="eb"/>
<text class="rl" text-anchor="end" transform="translate(294.92,413.86) rotate(-45)">Ctrl</text>
<text class="rl" text-anchor="end" transform="translate(301.62,413.86) rotate(-45)">0.5uM</text>
<text class="rl" text-anchor="end" transform="translate(308.32,413.86) rotate(-45)">1.0uM</text>
<text class="rl" text-anchor="end" transform="translate(315.02,413.86) rotate(-45)">1.5uM</text>
<line x1="291.45" y1="424.2" x2="316.7" y2="424.2" class="ul"/>
<text x="304.07" y="429.3" class="gl" text-anchor="middle">UVI 48h</text>
<line x1="191.2" y1="408.6" x2="320" y2="408.6" class="bl"/>
<line x1="198" y1="342.1" x2="216.6" y2="342.1" class="sg"/>
<text x="207.3" y="342.7" class="st" text-anchor="middle">*</text>
<line x1="229" y1="356.3" x2="249" y2="356.3" class="sg"/>
<text x="239" y="355.3" class="st" text-anchor="middle">**</text>
<text x="87.4" y="444.6" class="t" text-anchor="middle" textLength="24.9" lengthAdjust="spacingAndGlyphs">CRABP2</text>
<text class="yl" transform="translate(14.8,483.1) rotate(-90)" text-anchor="middle" textLength="71" lengthAdjust="spacingAndGlyphs">expression fold change (2<tspan class="sup" dy="-1.6">-ΔΔCt</tspan><tspan dy="1.6">)</tspan></text>
<line x1="23.8" y1="453.8" x2="23.8" y2="519.2" class="ax"/>
<line x1="22.2" y1="518.8" x2="23.8" y2="518.8" class="ax"/>
<text x="20.9" y="520.9" class="tk" text-anchor="end">0.0</text>
<line x1="22.2" y1="497.15" x2="23.8" y2="497.15" class="ax"/>
<text x="20.9" y="499.25" class="tk" text-anchor="end">0.5</text>
<line x1="22.2" y1="475.5" x2="23.8" y2="475.5" class="ax"/>
<text x="20.9" y="477.6" class="tk" text-anchor="end">1.0</text>
<line x1="22.2" y1="453.85" x2="23.8" y2="453.85" class="ax"/>
<text x="20.9" y="455.95" class="tk" text-anchor="end">1.5</text>
<rect x="27.1" y="475.5" width="6.6" height="43.3" fill="#111111" stroke="#111111" stroke-width="0.35"/>
<rect x="35.5" y="475.5" width="6.6" height="43.3" fill="#111111" stroke="#111111" stroke-width="0.35"/>
<line x1="38.5" y1="475.5" x2="38.5" y2="465.54" class="eb"/>
<line x1="37.1" y1="465.54" x2="39.9" y2="465.54" class="eb"/>
<rect x="43.9" y="475.5" width="6.6" height="43.3" fill="#111111" stroke="#111111" stroke-width="0.35"/>
<line x1="47.5" y1="475.5" x2="47.5" y2="469.44" class="eb"/>
<line x1="46.1" y1="469.44" x2="48.9" y2="469.44" class="eb"/>
<text class="rl" text-anchor="end" transform="translate(32.3,526.06) rotate(-45)">Ctrl</text>
<text class="rl" text-anchor="end" transform="translate(40.7,526.06) rotate(-45)">0.5uM</text>
<text class="rl" text-anchor="end" transform="translate(49.1,526.06) rotate(-45)">1.5uM</text>
<line x1="26.9" y1="536.9" x2="50.7" y2="536.9" class="ul"/>
<text x="38.8" y="542" class="gl" text-anchor="middle">Rat 24h</text>
<rect x="59.4" y="475.5" width="6.6" height="43.3" fill="#111111" stroke="#111111" stroke-width="0.35"/>
<rect x="67.8" y="494.99" width="6.6" height="23.81" fill="#111111" stroke="#111111" stroke-width="0.35"/>
<line x1="71.5" y1="494.99" x2="71.5" y2="488.92" class="eb"/>
<line x1="70.1" y1="488.92" x2="72.9" y2="488.92" class="eb"/>
<rect x="76.2" y="492.39" width="6.6" height="26.41" fill="#111111" stroke="#111111" stroke-width="0.35"/>
<line x1="79.5" y1="492.39" x2="79.5" y2="483.29" class="eb"/>
<line x1="78.1" y1="483.29" x2="80.9" y2="483.29" class="eb"/>
<text class="rl" text-anchor="end" transform="translate(64.6,526.06) rotate(-45)">Ctrl</text>
<text class="rl" text-anchor="end" transform="translate(73,526.06) rotate(-45)">1uM</text>
<text class="rl" text-anchor="end" transform="translate(81.4,526.06) rotate(-45)">5uM</text>
<line x1="59.2" y1="536.9" x2="83" y2="536.9" class="ul"/>
<text x="71.1" y="542" class="gl" text-anchor="middle">Rat 48h</text>
<rect x="91.7" y="475.5" width="6.6" height="43.3" fill="#d4d4d4" stroke="#cccccc" stroke-width="0.35"/>
<rect x="100.1" y="478.96" width="6.6" height="39.84" fill="#d4d4d4" stroke="#cccccc" stroke-width="0.35"/>
<line x1="103.5" y1="478.96" x2="103.5" y2="471.17" class="eb"/>
<line x1="102.1" y1="471.17" x2="104.9" y2="471.17" class="eb"/>
<rect x="108.5" y="475.07" width="6.6" height="43.73" fill="#d4d4d4" stroke="#cccccc" stroke-width="0.35"/>
<line x1="111.5" y1="475.07" x2="111.5" y2="469.44" class="eb"/>
<line x1="110.1" y1="469.44" x2="112.9" y2="469.44" class="eb"/>
<text class="rl" text-anchor="end" transform="translate(96.9,526.06) rotate(-45)">Ctrl</text>
<text class="rl" text-anchor="end" transform="translate(105.3,526.06) rotate(-45)">0.5uM</text>
<text class="rl" text-anchor="end" transform="translate(113.7,526.06) rotate(-45)">1.5uM</text>
<line x1="91.5" y1="536.9" x2="115.3" y2="536.9" class="ul"/>
<text x="103.4" y="542" class="gl" text-anchor="middle">at-RA 24h</text>
<rect x="124" y="475.5" width="6.6" height="43.3" fill="#d4d4d4" stroke="#cccccc" stroke-width="0.35"/>
<rect x="132.4" y="494.99" width="6.6" height="23.81" fill="#d4d4d4" stroke="#cccccc" stroke-width="0.35"/>
<line x1="135.5" y1="494.99" x2="135.5" y2="480.26" class="eb"/>
<line x1="134.1" y1="480.26" x2="136.9" y2="480.26" class="eb"/>
<rect x="140.8" y="506.24" width="6.6" height="12.56" fill="#d4d4d4" stroke="#cccccc" stroke-width="0.35"/>
<line x1="144.5" y1="506.24" x2="144.5" y2="496.72" class="eb"/>
<line x1="143.1" y1="496.72" x2="145.9" y2="496.72" class="eb"/>
<text class="rl" text-anchor="end" transform="translate(129.2,526.06) rotate(-45)">Ctrl</text>
<text class="rl" text-anchor="end" transform="translate(137.6,526.06) rotate(-45)">1uM</text>
<text class="rl" text-anchor="end" transform="translate(146,526.06) rotate(-45)">5uM</text>
<line x1="123.8" y1="536.9" x2="147.6" y2="536.9" class="ul"/>
<text x="135.7" y="542" class="gl" text-anchor="middle">at-RA 48h</text>
<line x1="23.8" y1="518.8" x2="151.5" y2="518.8" class="bl"/>
<line x1="61.9" y1="458.6" x2="71.6" y2="458.6" class="sg"/>
<text x="66.75" y="460" class="st" text-anchor="middle">**</text>
<line x1="61.9" y1="464.6" x2="79.8" y2="464.6" class="sg"/>
<text x="70.85" y="466" class="st" text-anchor="middle">**</text>
<line x1="127.9" y1="464.5" x2="145.9" y2="464.5" class="sg"/>
<text x="136.9" y="465.9" class="st" text-anchor="middle">*</text>
<text x="255.1" y="445.2" class="t" text-anchor="middle" textLength="24.9" lengthAdjust="spacingAndGlyphs">CRABP2</text>
<text class="yl" transform="translate(181.9,483.05) rotate(-90)" text-anchor="middle" textLength="71" lengthAdjust="spacingAndGlyphs">expression fold change (2<tspan class="sup" dy="-1.6">-ΔΔCt</tspan><tspan dy="1.6">)</tspan></text>
<line x1="190.9" y1="453.6" x2="190.9" y2="519.3" class="ax"/>
<line x1="189.3" y1="518.9" x2="190.9" y2="518.9" class="ax"/>
<text x="188" y="521" class="tk" text-anchor="end">0</text>
<line x1="189.3" y1="502.6" x2="190.9" y2="502.6" class="ax"/>
<text x="188" y="504.7" class="tk" text-anchor="end">1</text>
<line x1="189.3" y1="486.3" x2="190.9" y2="486.3" class="ax"/>
<text x="188" y="488.4" class="tk" text-anchor="end">2</text>
<line x1="189.3" y1="470" x2="190.9" y2="470" class="ax"/>
<text x="188" y="472.1" class="tk" text-anchor="end">3</text>
<line x1="189.3" y1="453.7" x2="190.9" y2="453.7" class="ax"/>
<text x="188" y="455.8" class="tk" text-anchor="end">4</text>
<rect x="194.2" y="502.6" width="4.75" height="16.3" fill="#8e8e8e" stroke="#777777" stroke-width="0.35"/>
<rect x="200.9" y="503.74" width="4.75" height="15.16" fill="#8e8e8e" stroke="#777777" stroke-width="0.35"/>
<line x1="203.5" y1="503.74" x2="203.5" y2="501.3" class="eb"/>
<line x1="202.1" y1="501.3" x2="204.9" y2="501.3" class="eb"/>
<rect x="207.6" y="494.45" width="4.75" height="24.45" fill="#8e8e8e" stroke="#777777" stroke-width="0.35"/>
<line x1="209.5" y1="494.45" x2="209.5" y2="491.35" class="eb"/>
<line x1="208.1" y1="491.35" x2="210.9" y2="491.35" class="eb"/>
<rect x="214.3" y="500.64" width="4.75" height="18.26" fill="#8e8e8e" stroke="#777777" stroke-width="0.35"/>
<line x1="216.5" y1="500.64" x2="216.5" y2="499.67" class="eb"/>
<line x1="215.1" y1="499.67" x2="217.9" y2="499.67" class="eb"/>
<text class="rl" text-anchor="end" transform="translate(197.47,525.44) rotate(-45)">Ctrl</text>
<text class="rl" text-anchor="end" transform="translate(204.17,525.44) rotate(-45)">0.5uM</text>
<text class="rl" text-anchor="end" transform="translate(210.88,525.44) rotate(-45)">1.0uM</text>
<text class="rl" text-anchor="end" transform="translate(217.57,525.44) rotate(-45)">1.5uM</text>
<line x1="194" y1="536.1" x2="219.25" y2="536.1" class="ul"/>
<text x="206.62" y="541.2" class="gl" text-anchor="middle">AGN 24h</text>
<rect x="226.55" y="502.6" width="4.75" height="16.3" fill="#8e8e8e" stroke="#777777" stroke-width="0.35"/>
<rect x="233.25" y="479.13" width="4.75" height="39.77" fill="#8e8e8e" stroke="#777777" stroke-width="0.35"/>
<line x1="235.5" y1="479.13" x2="235.5" y2="463.97" class="eb"/>
<line x1="234.1" y1="463.97" x2="236.9" y2="463.97" class="eb"/>
<rect x="239.95" y="485.65" width="4.75" height="33.25" fill="#8e8e8e" stroke="#777777" stroke-width="0.35"/>
<line x1="242.5" y1="485.65" x2="242.5" y2="470" class="eb"/>
<line x1="241.1" y1="470" x2="243.9" y2="470" class="eb"/>
<rect x="246.65" y="493.47" width="4.75" height="25.43" fill="#8e8e8e" stroke="#777777" stroke-width="0.35"/>
<line x1="249.5" y1="493.47" x2="249.5" y2="486.95" class="eb"/>
<line x1="248.1" y1="486.95" x2="250.9" y2="486.95" class="eb"/>
<text class="rl" text-anchor="end" transform="translate(229.82,525.44) rotate(-45)">Ctrl</text>
<text class="rl" text-anchor="end" transform="translate(236.52,525.44) rotate(-45)">0.5uM</text>
<text class="rl" text-anchor="end" transform="translate(243.22,525.44) rotate(-45)">1.0uM</text>
<text class="rl" text-anchor="end" transform="translate(249.92,525.44) rotate(-45)">1.5uM</text>
<line x1="226.35" y1="536.1" x2="251.6" y2="536.1" class="ul"/>
<text x="238.97" y="541.2" class="gl" text-anchor="middle">AGN 48h</text>
<rect x="258.9" y="502.6" width="4.75" height="16.3" fill="#5f5f5f" stroke="#484848" stroke-width="0.35"/>
<rect x="265.6" y="507.98" width="4.75" height="10.92" fill="#5f5f5f" stroke="#484848" stroke-width="0.35"/>
<line x1="267.5" y1="507.98" x2="267.5" y2="504.23" class="eb"/>
<line x1="266.1" y1="504.23" x2="268.9" y2="504.23" class="eb"/>
<rect x="272.3" y="508.63" width="4.75" height="10.27" fill="#5f5f5f" stroke="#484848" stroke-width="0.35"/>
<line x1="274.5" y1="508.63" x2="274.5" y2="502.93" class="eb"/>
<line x1="273.1" y1="502.93" x2="275.9" y2="502.93" class="eb"/>
<rect x="279" y="511.24" width="4.75" height="7.66" fill="#5f5f5f" stroke="#484848" stroke-width="0.35"/>
<line x1="281.5" y1="511.24" x2="281.5" y2="507.49" class="eb"/>
<line x1="280.1" y1="507.49" x2="282.9" y2="507.49" class="eb"/>
<text class="rl" text-anchor="end" transform="translate(262.17,525.44) rotate(-45)">Ctrl</text>
<text class="rl" text-anchor="end" transform="translate(268.87,525.44) rotate(-45)">0.5uM</text>
<text class="rl" text-anchor="end" transform="translate(275.57,525.44) rotate(-45)">1.0uM</text>
<text class="rl" text-anchor="end" transform="translate(282.27,525.44) rotate(-45)">1.5uM</text>
<line x1="258.7" y1="536.1" x2="283.95" y2="536.1" class="ul"/>
<text x="271.32" y="541.2" class="gl" text-anchor="middle">UVI 24h</text>
<rect x="291.25" y="502.6" width="4.75" height="16.3" fill="#5f5f5f" stroke="#484848" stroke-width="0.35"/>
<rect x="297.95" y="510.91" width="4.75" height="7.99" fill="#5f5f5f" stroke="#484848" stroke-width="0.35"/>
<line x1="300.5" y1="510.91" x2="300.5" y2="506.35" class="eb"/>
<line x1="299.1" y1="506.35" x2="301.9" y2="506.35" class="eb"/>
<rect x="304.65" y="512.38" width="4.75" height="6.52" fill="#5f5f5f" stroke="#484848" stroke-width="0.35"/>
<line x1="307.5" y1="512.38" x2="307.5" y2="509.45" class="eb"/>
<line x1="306.1" y1="509.45" x2="308.9" y2="509.45" class="eb"/>
<rect x="311.35" y="515.8" width="4.75" height="3.1" fill="#5f5f5f" stroke="#484848" stroke-width="0.35"/>
<line x1="313.5" y1="515.8" x2="313.5" y2="514.5" class="eb"/>
<line x1="312.1" y1="514.5" x2="314.9" y2="514.5" class="eb"/>
<text class="rl" text-anchor="end" transform="translate(294.52,525.44) rotate(-45)">Ctrl</text>
<text class="rl" text-anchor="end" transform="translate(301.22,525.44) rotate(-45)">0.5uM</text>
<text class="rl" text-anchor="end" transform="translate(307.92,525.44) rotate(-45)">1.0uM</text>
<text class="rl" text-anchor="end" transform="translate(314.62,525.44) rotate(-45)">1.5uM</text>
<line x1="291.05" y1="536.1" x2="316.3" y2="536.1" class="ul"/>
<text x="303.68" y="541.2" class="gl" text-anchor="middle">UVI 48h</text>
<line x1="190.9" y1="518.9" x2="319.2" y2="518.9" class="bl"/>
<line x1="197.5" y1="476.6" x2="210.8" y2="476.6" class="sg"/>
<text x="204.15" y="475.9" class="st" text-anchor="middle">***</text>
<line x1="228.2" y1="458.6" x2="238.2" y2="458.6" class="sg"/>
<text x="233.2" y="460" class="st" text-anchor="middle">*</text>
<line x1="261.3" y1="483.5" x2="282.5" y2="483.5" class="sg"/>
<text x="271.9" y="484.9" class="st" text-anchor="middle">*</text>
<line x1="293.5" y1="492.1" x2="300.1" y2="492.1" class="sg"/>
<text x="296.8" y="493.5" class="st" text-anchor="middle">**</text>
<line x1="293.5" y1="495.7" x2="306.8" y2="495.7" class="sg"/>
<text x="300.15" y="497.1" class="st" text-anchor="middle">***</text>
<line x1="293.5" y1="499.3" x2="313.4" y2="499.3" class="sg"/>
<text x="303.45" y="500.7" class="st" text-anchor="middle">***</text>
</svg>
</body></html>
